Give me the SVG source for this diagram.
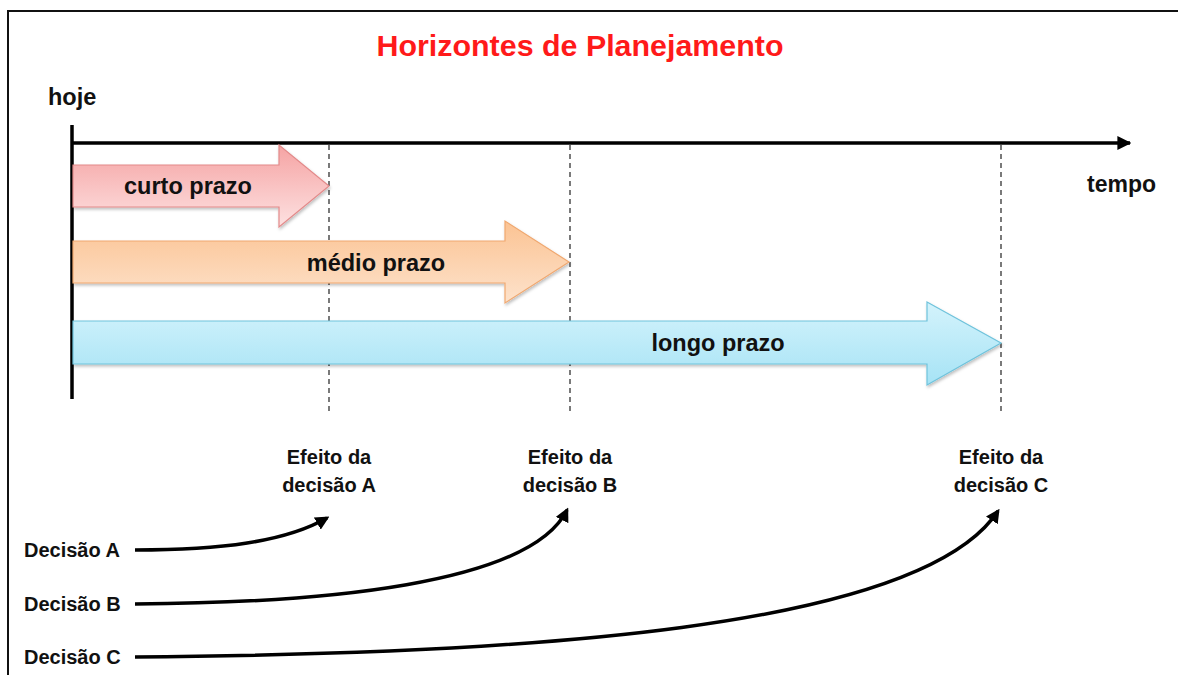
<svg xmlns="http://www.w3.org/2000/svg" width="1178" height="675" viewBox="0 0 1178 675">
<defs>
<style>
.t{font-family:"Liberation Sans",Arial,sans-serif;font-weight:bold;fill:#111;}
.dash{stroke:#333;stroke-width:1.3;stroke-dasharray:5,4;fill:none;}
.curve{stroke:#000;stroke-width:3.5;fill:none;marker-end:url(#ah);}
</style>
<linearGradient id="gRed" x1="0" y1="0" x2="0" y2="1"><stop offset="0" stop-color="#f5a3a3"/><stop offset="1" stop-color="#fde1e1"/></linearGradient>
<linearGradient id="gOr" x1="0" y1="0" x2="0" y2="1"><stop offset="0" stop-color="#fbc393"/><stop offset="1" stop-color="#fde2cb"/></linearGradient>
<linearGradient id="gBl" x1="0" y1="0" x2="0" y2="1"><stop offset="0" stop-color="#d4f3fc"/><stop offset="1" stop-color="#a6e3f5"/></linearGradient>
<filter id="sh" x="-5%" y="-20%" width="110%" height="150%"><feDropShadow dx="1" dy="2" stdDeviation="1.5" flood-color="#000" flood-opacity="0.25"/></filter>
<marker id="ah" viewBox="0 0 10 10" refX="8" refY="5" markerWidth="4" markerHeight="4" orient="auto" markerUnits="strokeWidth"><path d="M0,0 L10,5 L0,10 Z" fill="#000"/></marker>
<marker id="axh" viewBox="0 0 10 10" refX="9" refY="5" markerWidth="4" markerHeight="4" orient="auto" markerUnits="strokeWidth"><path d="M0,0 L10,5 L0,10 Z" fill="#000"/></marker>
</defs>
<rect width="1178" height="675" fill="#fff"/>
<path d="M8,680 L8,11 L1185,11" fill="none" stroke="#111" stroke-width="2"/>
<g id="title"><text class="t" x="580" y="56" font-size="30" style="fill:#ff1a1a" text-anchor="middle" textLength="407" lengthAdjust="spacingAndGlyphs">Horizontes de Planejamento</text></g>
<g id="axes">
<line x1="72" y1="125" x2="72" y2="399" stroke="#000" stroke-width="3.5"/>
<line x1="71" y1="143" x2="1130" y2="143" stroke="#000" stroke-width="3.5" marker-end="url(#axh)"/>
<text class="t" x="48" y="105" font-size="23.5">hoje</text>
<text class="t" x="1087" y="192" font-size="23">tempo</text>
</g>
<g id="guides">
<line class="dash" x1="329" y1="145" x2="329" y2="415"/>
<line class="dash" x1="570" y1="145" x2="570" y2="415"/>
<line class="dash" x1="1001" y1="145" x2="1001" y2="415"/>
</g>
<g id="curto">
<path d="M73,165 L279,165 L279,145 L329,186 L279,227 L279,207 L73,207 Z" fill="url(#gRed)" stroke="#e38a8a" stroke-width="1.2" filter="url(#sh)"/>
<text class="t" x="188" y="194" font-size="23.5" text-anchor="middle">curto prazo</text>
</g>
<g id="medio">
<path d="M73,241 L505,241 L505,221 L569,262 L505,303 L505,283 L73,283 Z" fill="url(#gOr)" stroke="#f0a870" stroke-width="1.2" filter="url(#sh)"/>
<text class="t" x="376" y="271" font-size="23.5" text-anchor="middle">médio prazo</text>
</g>
<g id="longo">
<path d="M73,321 L927,321 L927,302 L1001,343 L927,385 L927,364 L73,364 Z" fill="url(#gBl)" stroke="#6fc3dc" stroke-width="1.2" filter="url(#sh)"/>
<text class="t" x="718" y="351" font-size="23.5" text-anchor="middle">longo prazo</text>
</g>
<g id="efeitoA"><text class="t" x="329" y="464" font-size="20" text-anchor="middle">Efeito da</text><text class="t" x="329" y="492" font-size="20" text-anchor="middle">decisão A</text></g>
<g id="efeitoB"><text class="t" x="570" y="464" font-size="20" text-anchor="middle">Efeito da</text><text class="t" x="570" y="492" font-size="20" text-anchor="middle">decisão B</text></g>
<g id="efeitoC"><text class="t" x="1001" y="464" font-size="20" text-anchor="middle">Efeito da</text><text class="t" x="1001" y="492" font-size="20" text-anchor="middle">decisão C</text></g>
<g id="decA"><text class="t" x="24" y="557" font-size="20">Decisão A</text></g>
<g id="decB"><text class="t" x="24" y="611" font-size="20">Decisão B</text></g>
<g id="decC"><text class="t" x="24" y="664" font-size="20">Decisão C</text></g>
<g id="connectors">
<path class="curve" d="M135,550 C220,550 285,542 327,518"/>
<path class="curve" d="M135,604 C320,603 530,585 567,510"/>
<path class="curve" d="M135,657 C520,654 920,630 998,511"/>
</g>
</svg>
